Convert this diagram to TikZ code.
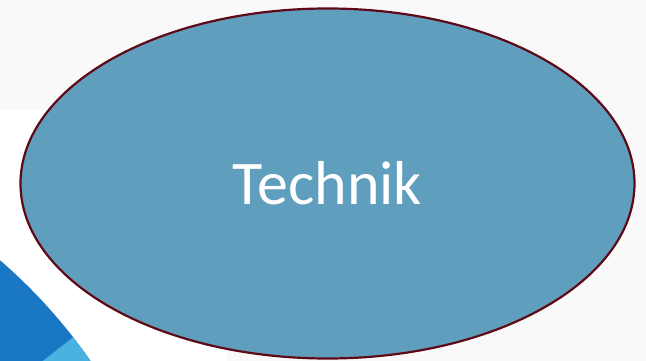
\documentclass[tikz,border=0pt]{standalone}
\usepackage{fontspec}
\setmainfont{Carlito}
\definecolor{bggray}{HTML}{F9F9F9}
\definecolor{ellfill}{HTML}{5F9FBD}
\definecolor{ellline}{HTML}{5E0A16}
\definecolor{darkblue}{HTML}{1A77C3}
\definecolor{lightblue}{HTML}{48B2E0}
\tikzset{
  oval/.style={ellipse, draw=ellline, line width=2.2pt, fill=ellfill,
    minimum width=614pt, minimum height=350pt, inner sep=0pt,
    text=white, font=\fontsize{62}{74}\selectfont}
}
\usetikzlibrary{shapes.geometric}
\begin{document}
\begin{tikzpicture}[x=1pt,y=-1pt]
\useasboundingbox (0,0) rectangle (646,361);
\fill[bggray] (0,0) rectangle (646,361);
\fill[white] (0,110) rectangle (227,361);
\begin{scope}
\clip (0,0) rectangle (646,361);
\fill[darkblue] (-348,664) circle (533);
\fill[lightblue] (-348,664) -- ++(-37.8:533) arc (-37.8:0:533) -- cycle;
\end{scope}
\node[oval] (tech) at (327.5,183.5) {Technik};
\end{tikzpicture}
\end{document}
